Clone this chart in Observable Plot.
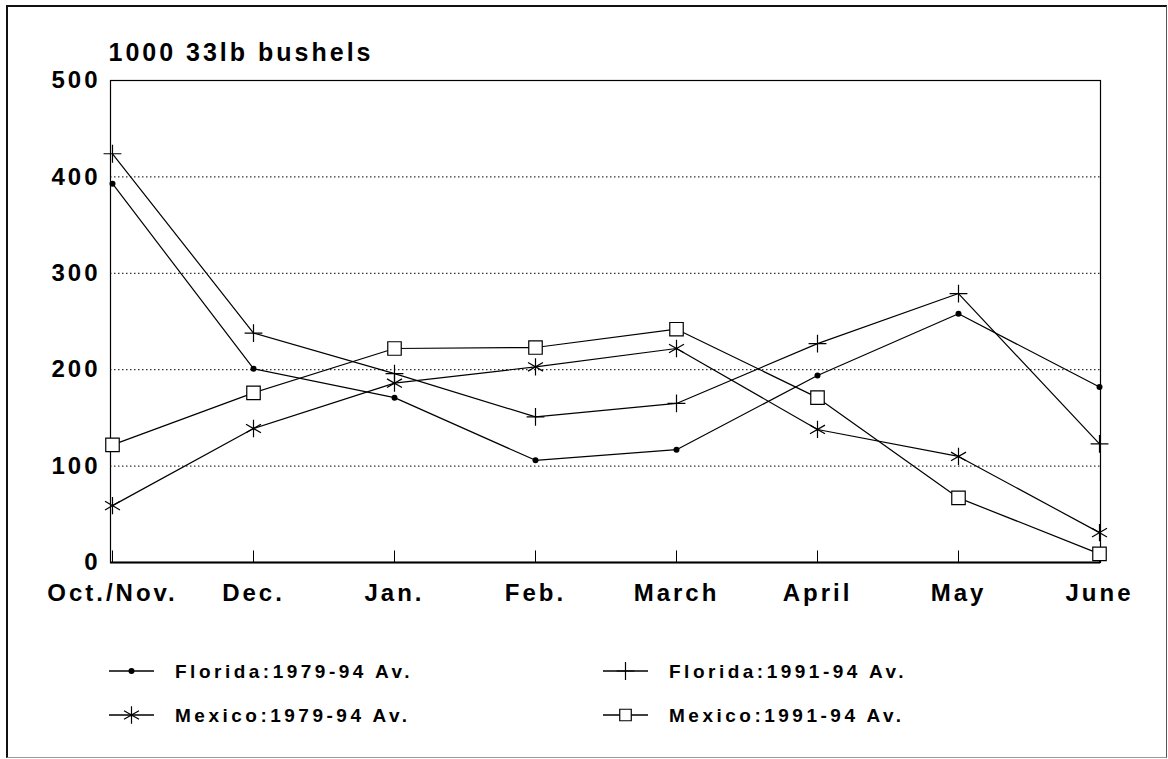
<!DOCTYPE html>
<html>
<head>
<meta charset="utf-8">
<script src="https://cdn.jsdelivr.net/npm/d3@7"></script>
<script src="https://cdn.jsdelivr.net/npm/@observablehq/plot@0.6"></script>
<style>
  html, body { margin: 0; padding: 0; background: #fff; }
  #wrap { position: relative; width: 1168px; height: 759px; overflow: hidden; background: #fff; }
  #border { position: absolute; left: 6px; top: 5px; width: 1158px; height: 750px;
            border-top: 2px solid #111; border-left: 2px solid #111;
            border-right: 1.5px solid #555; border-bottom: 1.5px solid #999; pointer-events: none; }
  #chart svg, #legend svg { display: block; }
</style>
</head>
<body>
<div id="wrap">
  <div id="chart"></div>
  <div id="legend"></div>
  <div id="border"></div>
</div>
<script>
const months = ["Oct./Nov.", "Dec.", "Jan.", "Feb.", "March", "April", "May", "June"];
const florida7994 = [393, 201, 171, 106, 117, 194, 258, 182];
const florida9194 = [424, 238, 196, 151, 165, 227, 279, 123];
const mexico7994  = [59, 139, 186, 203, 222, 138, 110, 31];
const mexico9194  = [122, 176, 222, 223, 242, 171, 67, 9];
const yTicks = [0, 100, 200, 300, 400, 500];
const gridValues = [100, 200, 300, 400];
const seriesNames = ["Florida:1979-94 Av.", "Florida:1991-94 Av.", "Mexico:1979-94 Av.", "Mexico:1991-94 Av."];
const titleText = "1000 33lb bushels";

const seriesValues = [florida7994, florida9194, mexico7994, mexico9194];
const symbols = ["circle", "plus", "asterisk", "square"];
const radii = [3, 5.8, 8.2, 7.6];
const fills = ["black", "none", "none", "white"];

const table = [];
seriesNames.forEach((s, i) => months.forEach((m, j) => table.push({series: s, month: m, value: seriesValues[i][j]})));

const font = "'Liberation Sans', Arial, Helvetica, sans-serif";

const dotMarks = seriesNames.map((s, i) => Plot.dot(table.filter(d => d.series === s), {
  x: "month", y: "value", symbol: symbols[i], r: radii[i],
  fill: fills[i], stroke: i === 0 ? "none" : "black", strokeWidth: 1.2
}));

const chart = Plot.plot({
  width: 1168,
  height: 630,
  marginTop: 80,
  marginBottom: 68,
  marginLeft: 110,
  marginRight: 68,
  style: {fontFamily: font, fontSize: "24px", fontWeight: "bold", letterSpacing: "3px", color: "black", background: "white"},
  x: {type: "point", domain: months, padding: 0, label: null},
  y: {domain: [0, 500], ticks: yTicks, label: null},
  marks: [
    Plot.ruleY(gridValues, {stroke: "black", strokeWidth: 1, strokeDasharray: "1.5,2.5"}),
    Plot.frame({stroke: "black", strokeWidth: 1.2}),
    Plot.ruleY([0], {stroke: "black", strokeWidth: 2}),
    Plot.ruleX(months, {y1: 0, y2: 12, stroke: "black", strokeWidth: 1}),
    Plot.axisX({tickSize: 0, tickPadding: 21, label: null}),
    Plot.axisY({ticks: yTicks, tickSize: 0, tickPadding: 10, label: null}),
    Plot.line(table, {x: "month", y: "value", z: "series", stroke: "black", strokeWidth: 1.2}),
    ...dotMarks,
    Plot.text([titleText], {frameAnchor: "top-left", dx: -2, dy: -20, textAnchor: "start", lineAnchor: "bottom",
      fontSize: 25, fontWeight: "bold", fill: "black"})
  ]
});
document.getElementById("chart").appendChild(chart);

// Legend (below the chart SVG)
const lw = 1168, lh = 129;
const legend = d3.create("svg").attr("width", lw).attr("height", lh).attr("viewBox", `0 0 ${lw} ${lh}`)
  .style("font-family", font).style("font-weight", "bold").style("font-size", "19px").style("letter-spacing", "3.5px");
const cols = [109, 603];
const rowsY = [41, 85];
const order = [[0, 0, 0], [1, 1, 0], [2, 0, 1], [3, 1, 1]]; // series, col, row
const symMap = {circle: d3.symbolCircle, plus: d3.symbolPlus, asterisk: d3.symbolAsterisk, square: d3.symbolSquare};
order.forEach(([si, ci, ri]) => {
  const x0 = cols[ci], y0 = rowsY[ri];
  const g = legend.append("g");
  g.append("line").attr("x1", x0).attr("x2", x0 + 45).attr("y1", y0).attr("y2", y0)
    .attr("stroke", "black").attr("stroke-width", 1.3);
  const r = si === 3 ? 6.5 : radii[si];
  g.append("path")
    .attr("d", d3.symbol(symMap[symbols[si]], r * r * Math.PI)())
    .attr("transform", `translate(${x0 + 22.5},${y0})`)
    .attr("fill", fills[si])
    .attr("stroke", si === 0 ? "none" : "black").attr("stroke-width", 1.2);
  g.append("text").attr("x", x0 + 66).attr("y", y0 + 7).attr("fill", "black").text(seriesNames[si]);
});
document.getElementById("legend").appendChild(legend.node());
</script>
</body>
</html>
